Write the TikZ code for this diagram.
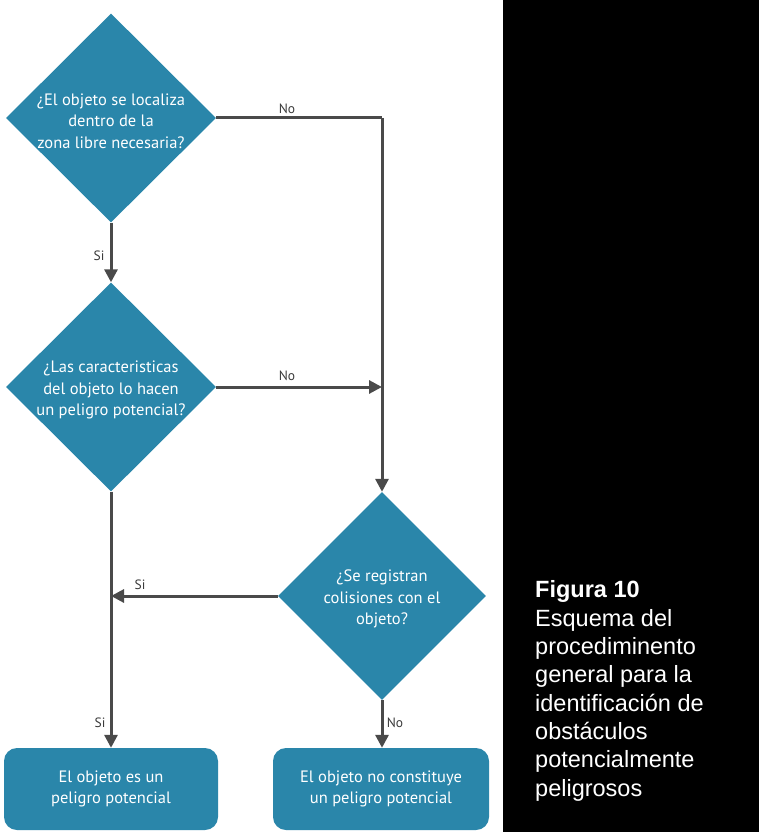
\documentclass[tikz,border=0pt]{standalone}
\usepackage{fontspec}
\setmainfont{Liberation Sans}
\newfontfamily\diagfont{PT Sans}
\usetikzlibrary{shapes.geometric,arrows.meta}
\definecolor{teal}{HTML}{2A86AA}
\definecolor{linegray}{HTML}{4A4A4A}
\definecolor{labgray}{HTML}{3A3A3A}
\begin{document}
\begin{tikzpicture}[x=1pt,y=-1pt,
  decision/.style={diamond, fill=teal, draw=none, inner sep=0pt, minimum width=210pt, minimum height=209pt},
  dtext/.style={text=white, align=center, font=\diagfont\fontsize{16.5}{21.5}\selectfont, inner sep=0pt, yshift=-3pt},
  endbox/.style={rectangle, rounded corners=13pt, fill=teal, draw=none, minimum width=214pt, minimum height=82pt, inner sep=0pt, text=white, align=center, font=\diagfont\fontsize{16.5}{20.5}\selectfont},
  arr/.style={draw=linegray, line width=3pt, -{Triangle[length=13pt,width=13pt]}},
  ln/.style={draw=linegray, line width=3pt},
  lab/.style={text=labgray, font=\diagfont\fontsize{13.5}{14}\selectfont, inner sep=0pt},
]
\useasboundingbox (0,0) rectangle (759,832);
\fill[white] (0,0) rectangle (759,832);
\fill[black] (503,0) rectangle (759,832);

% decisions
\node[decision] (d1) at (111,118) {};
\node[dtext] (d1t) at (d1.center) {¿El objeto se localiza\\dentro de la\\zona libre necesaria?};
\node[decision] (d2) at (111,387) {};
\node[dtext] (d2t) at (d2.center) {¿Las caracteristicas\\del objeto lo hacen\\un peligro potencial?};
\node[decision, minimum width=208pt, minimum height=208pt] (d3) at (382,596) {};
\node[dtext] (d3t) at (d3.center) {¿Se registran\\colisiones con el\\objeto?};

% end boxes
\node[endbox] (b1) at (111,789) {El objeto es un\\peligro potencial};
\node[endbox, minimum width=216pt] (b2) at (381,789) {El objeto no constituye\\un peligro potencial};

% connectors
\coordinate (c1) at (382,118);
\draw[ln] (d1.east) -- (c1);
\draw[arr] (c1) -- (d3.north);
\draw[arr] (d1.south) -- (d2.north);
\draw[arr] (d2.east) -- (d2.east -| c1);
\draw[arr] (d2.south) -- (d2.south |- b1.north);
\draw[arr] (d3.west) -- (d3.west -| d2.south);
\draw[arr] (d3.south) -- (d3.south |- b2.north);

% labels
\node[lab] (l1) at (287,109) {No};
\node[lab] (l2) at (287,376) {No};
\node[lab] (l3) at (99,256) {Si};
\node[lab] (l4) at (140,585) {Si};
\node[lab] (l5) at (100,723) {Si};
\node[lab] (l6) at (395,723) {No};

% caption
\node[anchor=base west, text=white, align=left, inner sep=0pt, font=\fontsize{23.5}{28.3}\selectfont] (cap) at (535,796)
 {\textbf{Figura 10}\\Esquema del\\procediminento\\general para la\\identificación de\\obstáculos\\potencialmente\\peligrosos};
\end{tikzpicture}
\end{document}
